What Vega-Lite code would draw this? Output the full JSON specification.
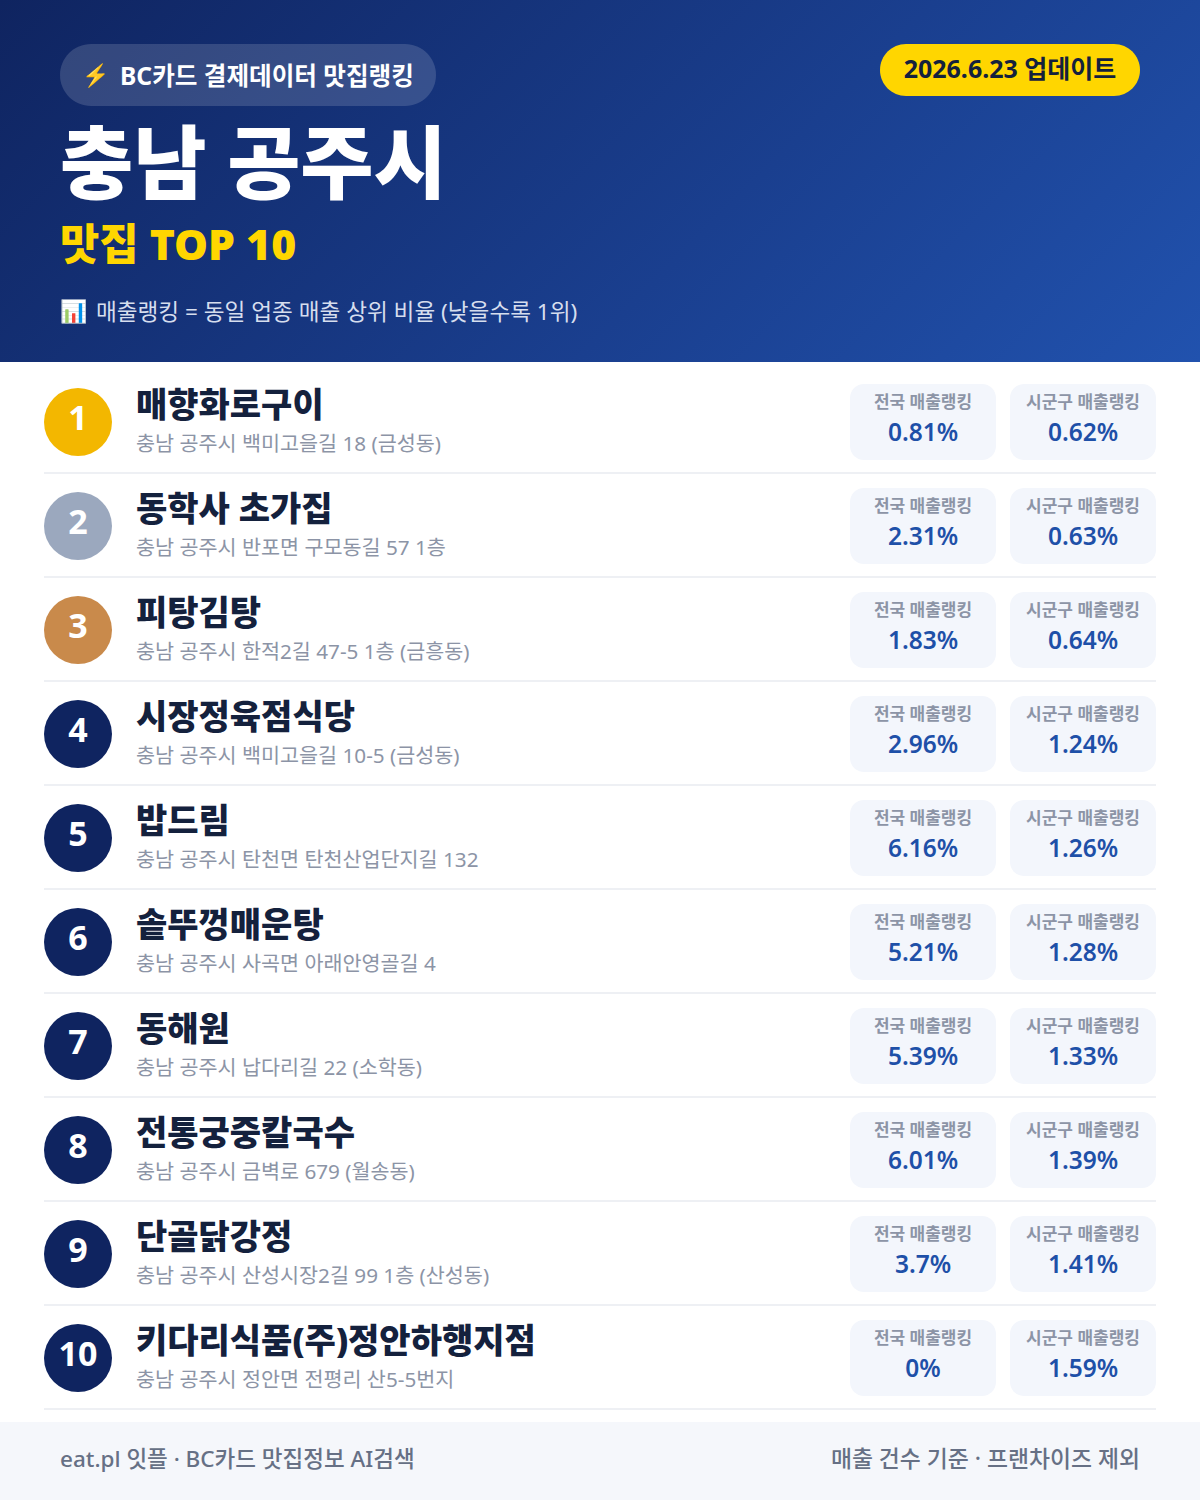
{
  "$schema": "https://vega.github.io/schema/vega-lite/v6.json",
  "background": "#ffffff",
  "padding": 0,
  "spacing": 0,
  "config": {
    "view": {"stroke": null},
    "axis": {"disable": true},
    "legend": {"disable": true},
    "text": {"font": "Noto Sans, Noto Sans CJK KR"}
  },
  "datasets": {
    "header": [
      {
        "bolt": "⚡",
        "badge": "BC카드 결제데이터 맛집랭킹",
        "city": "충남 공주시",
        "top": "맛집 TOP 10",
        "chart": "📊",
        "note": "매출랭킹 = 동일 업종 매출 상위 비율 (낮을수록 1위)",
        "updated": "2026.6.23 업데이트"
      }
    ],
    "places": [
      {"rank": 1, "name": "매향화로구이", "address": "충남 공주시 백미고을길 18 (금성동)", "national": 0.0081, "local": 0.0062},
      {"rank": 2, "name": "동학사 초가집", "address": "충남 공주시 반포면 구모동길 57 1층", "national": 0.0231, "local": 0.0063},
      {"rank": 3, "name": "피탕김탕", "address": "충남 공주시 한적2길 47-5 1층 (금흥동)", "national": 0.0183, "local": 0.0064},
      {"rank": 4, "name": "시장정육점식당", "address": "충남 공주시 백미고을길 10-5 (금성동)", "national": 0.0296, "local": 0.0124},
      {"rank": 5, "name": "밥드림", "address": "충남 공주시 탄천면 탄천산업단지길 132", "national": 0.0616, "local": 0.0126},
      {"rank": 6, "name": "솥뚜껑매운탕", "address": "충남 공주시 사곡면 아래안영골길 4", "national": 0.0521, "local": 0.0128},
      {"rank": 7, "name": "동해원", "address": "충남 공주시 납다리길 22 (소학동)", "national": 0.0539, "local": 0.0133},
      {"rank": 8, "name": "전통궁중칼국수", "address": "충남 공주시 금벽로 679 (월송동)", "national": 0.0601, "local": 0.0139},
      {"rank": 9, "name": "단골닭강정", "address": "충남 공주시 산성시장2길 99 1층 (산성동)", "national": 0.037, "local": 0.0141},
      {"rank": 10, "name": "키다리식품(주)정안하행지점", "address": "충남 공주시 정안면 전평리 산5-5번지", "national": 0, "local": 0.0159}
    ],
    "footer": [
      {"left": "eat.pl 잇플 · BC카드 맛집정보 AI검색", "right": "매출 건수 기준 · 프랜차이즈 제외"}
    ]
  },
  "vconcat": [
    {
      "width": 1200,
      "height": 362,
      "data": {"name": "header"},
      "layer": [
        {
          "mark": {
            "type": "rect",
            "color": {
              "gradient": "linear",
              "x1": 0, "y1": 0, "x2": 1.193, "y2": 0.36,
              "stops": [
                {"offset": 0, "color": "#0f2460"},
                {"offset": 0.6, "color": "#1a3f8f"},
                {"offset": 1, "color": "#2152ae"}
              ]
            }
          },
          "encoding": {
            "x": {"datum": 0, "scale": {"domain": [0, 1200], "nice": false}},
            "x2": {"datum": 1200},
            "y": {"datum": 0, "scale": {"domain": [362, 0], "nice": false}},
            "y2": {"datum": 362}
          }
        },
        {
          "mark": {"type": "rect", "color": "#ffffff", "opacity": 0.15, "cornerRadius": 31},
          "encoding": {"x": {"datum": 60}, "x2": {"datum": 436}, "y": {"datum": 44}, "y2": {"datum": 106}}
        },
        {
          "mark": {"type": "rect", "color": "#ffd600", "cornerRadius": 26},
          "encoding": {"x": {"datum": 880}, "x2": {"datum": 1140}, "y": {"datum": 44}, "y2": {"datum": 96}}
        },
        {
          "mark": {"type": "text", "align": "center", "baseline": "middle", "fontSize": 22, "color": "#ffffff"},
          "encoding": {"x": {"datum": 95}, "y": {"datum": 76}, "text": {"field": "bolt"}}
        },
        {
          "mark": {"type": "text", "align": "left", "baseline": "middle", "fontSize": 24.6, "fontWeight": 700, "color": "#ffffff"},
          "encoding": {"x": {"datum": 120}, "y": {"datum": 78}, "text": {"field": "badge"}}
        },
        {
          "mark": {"type": "text", "align": "center", "baseline": "middle", "fontSize": 25, "fontWeight": 700, "color": "#14213d"},
          "encoding": {"x": {"datum": 1010}, "y": {"datum": 70}, "text": {"field": "updated"}}
        },
        {
          "mark": {"type": "text", "align": "left", "baseline": "middle", "fontSize": 79.6, "fontWeight": 900, "color": "#ffffff"},
          "encoding": {"x": {"datum": 60}, "y": {"datum": 168}, "text": {"field": "city"}}
        },
        {
          "mark": {"type": "text", "align": "left", "baseline": "middle", "fontSize": 42.7, "fontWeight": 900, "color": "#ffd600"},
          "encoding": {"x": {"datum": 60}, "y": {"datum": 247}, "text": {"field": "top"}}
        },
        {
          "mark": {"type": "text", "align": "left", "baseline": "middle", "fontSize": 22},
          "encoding": {"x": {"datum": 60}, "y": {"datum": 312}, "text": {"field": "chart"}}
        },
        {
          "mark": {"type": "text", "align": "left", "baseline": "middle", "fontSize": 22.6, "color": "#d6deee"},
          "encoding": {"x": {"datum": 96}, "y": {"datum": 313}, "text": {"field": "note"}}
        }
      ]
    },
    {
      "width": 1200,
      "height": 1060,
      "data": {"name": "places"},
      "encoding": {
        "y": {
          "field": "rank",
          "type": "ordinal",
          "scale": {"type": "band", "range": [8, 1048], "paddingInner": 0.26923, "paddingOuter": 0.13462}
        }
      },
      "layer": [
        {
          "mark": {"type": "rule", "color": "#eef0f4", "strokeWidth": 2, "yOffset": 13},
          "encoding": {
            "x": {"datum": 44, "scale": {"domain": [0, 1200], "nice": false}},
            "x2": {"datum": 1156},
            "y": {"field": "rank", "type": "ordinal", "bandPosition": 1}
          }
        },
        {
          "mark": {"type": "point", "shape": "circle", "filled": true, "opacity": 1, "size": 4624},
          "encoding": {
            "x": {"datum": 78},
            "color": {
              "field": "rank",
              "type": "nominal",
              "scale": {
                "domain": [1, 2, 3, 4, 5, 6, 7, 8, 9, 10],
                "range": ["#f3b700", "#9ba8be", "#c98a4b", "#0f2460", "#0f2460", "#0f2460", "#0f2460", "#0f2460", "#0f2460", "#0f2460"]
              }
            }
          }
        },
        {
          "mark": {"type": "text", "align": "center", "baseline": "middle", "fontSize": 34, "fontWeight": 700, "color": "#ffffff", "dy": -2},
          "encoding": {"x": {"datum": 78}, "text": {"field": "rank"}}
        },
        {
          "mark": {"type": "text", "align": "left", "baseline": "middle", "fontSize": 34, "fontWeight": 900, "color": "#14213d", "dy": -15},
          "encoding": {"x": {"datum": 136}, "text": {"field": "name"}}
        },
        {
          "mark": {"type": "text", "align": "left", "baseline": "middle", "fontSize": 20.7, "color": "#8c94a6", "dy": 23},
          "encoding": {"x": {"datum": 136}, "text": {"field": "address"}}
        },
        {
          "mark": {"type": "rect", "color": "#f3f6fc", "cornerRadius": 14},
          "encoding": {"x": {"datum": 850}, "x2": {"datum": 996}}
        },
        {
          "mark": {"type": "rect", "color": "#f3f6fc", "cornerRadius": 14},
          "encoding": {"x": {"datum": 1010}, "x2": {"datum": 1156}}
        },
        {
          "mark": {"type": "text", "align": "center", "baseline": "middle", "fontSize": 17, "fontWeight": 600, "color": "#8c94a6", "dy": -19, "text": "전국 매출랭킹"},
          "encoding": {"x": {"datum": 923}}
        },
        {
          "mark": {"type": "text", "align": "center", "baseline": "middle", "fontSize": 17, "fontWeight": 600, "color": "#8c94a6", "dy": -19, "text": "시군구 매출랭킹"},
          "encoding": {"x": {"datum": 1083}}
        },
        {
          "mark": {"type": "text", "align": "center", "baseline": "middle", "fontSize": 24.5, "fontWeight": 600, "color": "#1e50a8", "dy": 12},
          "encoding": {"x": {"datum": 923}, "text": {"field": "national", "type": "quantitative", "format": ".2~%"}}
        },
        {
          "mark": {"type": "text", "align": "center", "baseline": "middle", "fontSize": 24.5, "fontWeight": 600, "color": "#1e50a8", "dy": 12},
          "encoding": {"x": {"datum": 1083}, "text": {"field": "local", "type": "quantitative", "format": ".2~%"}}
        }
      ]
    },
    {
      "width": 1200,
      "height": 78,
      "data": {"name": "footer"},
      "layer": [
        {
          "mark": {"type": "rect", "color": "#f5f7fb"},
          "encoding": {
            "x": {"datum": 0, "scale": {"domain": [0, 1200], "nice": false}},
            "x2": {"datum": 1200},
            "y": {"datum": 0, "scale": {"domain": [78, 0], "nice": false}},
            "y2": {"datum": 78}
          }
        },
        {
          "mark": {"type": "text", "align": "left", "baseline": "middle", "fontSize": 22.5, "fontWeight": 500, "color": "#667085"},
          "encoding": {"x": {"datum": 60}, "y": {"datum": 38}, "text": {"field": "left"}}
        },
        {
          "mark": {"type": "text", "align": "right", "baseline": "middle", "fontSize": 22.85, "fontWeight": 500, "color": "#667085"},
          "encoding": {"x": {"datum": 1140}, "y": {"datum": 38}, "text": {"field": "right"}}
        }
      ]
    }
  ]
}
